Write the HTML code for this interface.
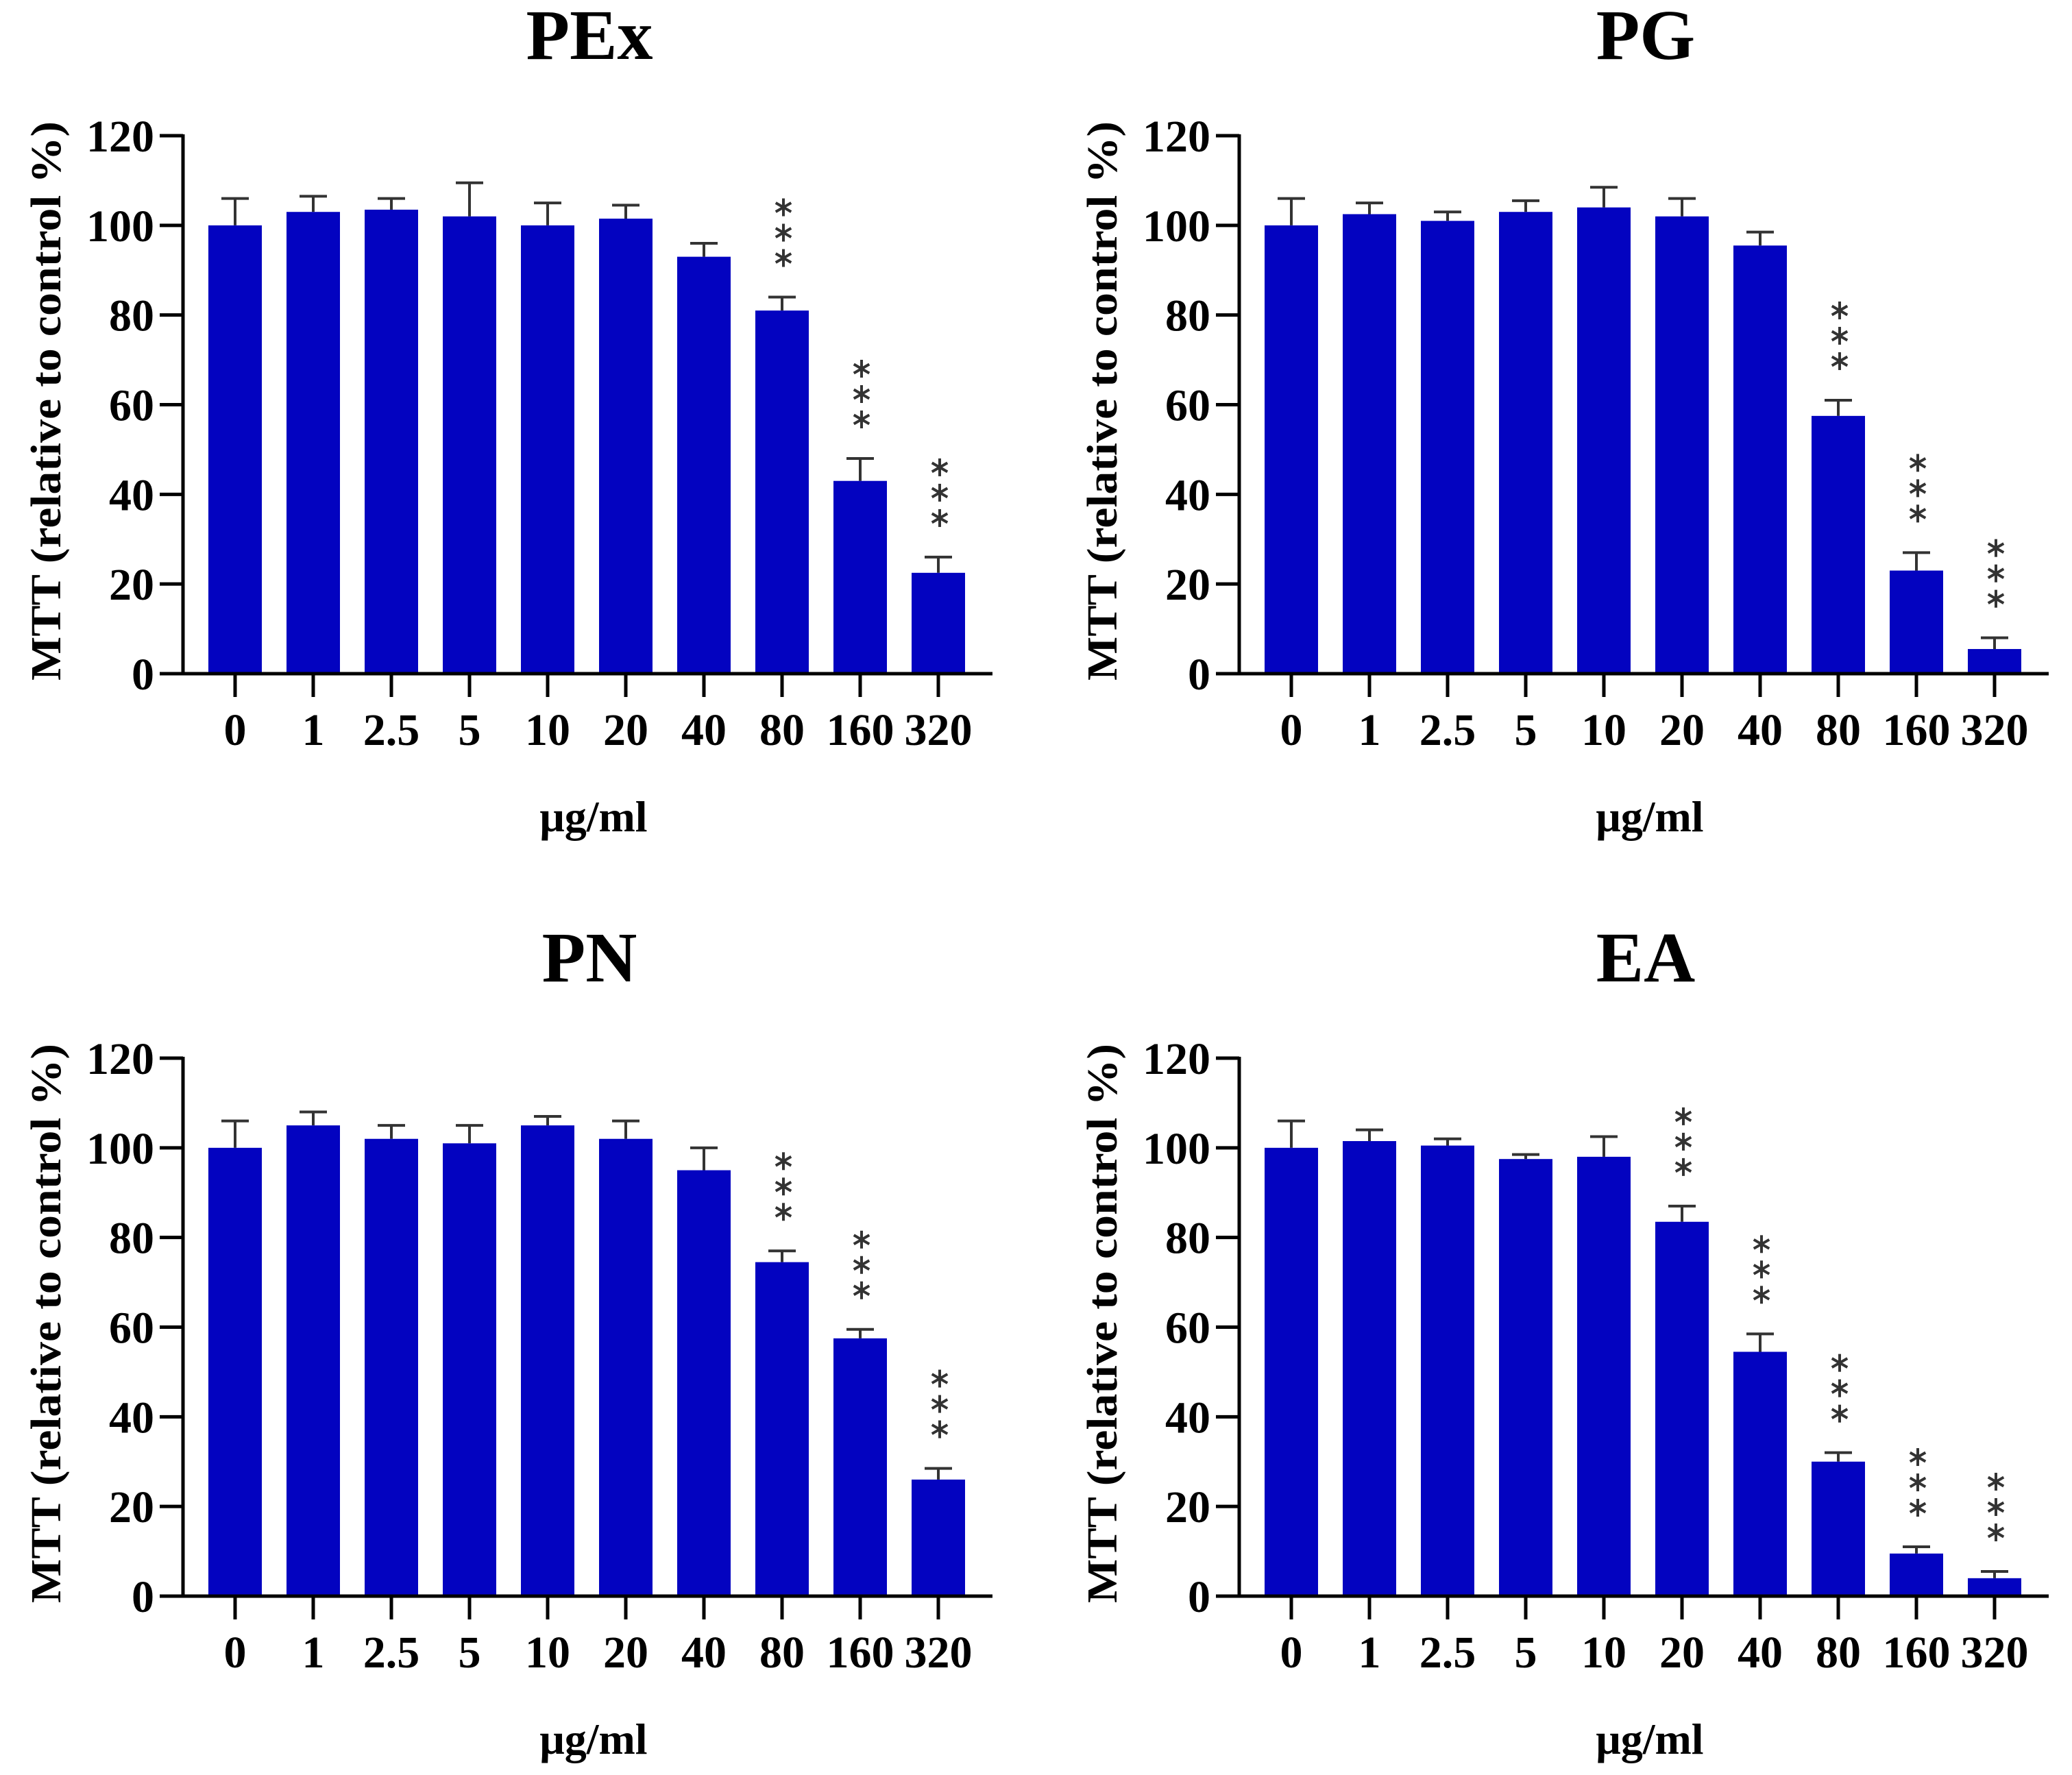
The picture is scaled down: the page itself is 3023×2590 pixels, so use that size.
<!DOCTYPE html>
<html><head><meta charset="utf-8"><style>html,body{margin:0;padding:0;background:#fff}svg{display:block}</style></head>
<body>
<svg id="fig" width="3023" height="2590" viewBox="0 0 3023 2590" xmlns="http://www.w3.org/2000/svg" font-family="'Liberation Serif', serif"></svg>
<script>
const categories = ["0","1","2.5","5","10","20","40","80","160","320"];
const yTicks = [0,20,40,60,80,100,120];
const titles = ["PEx","PG","PN","EA"];
const pexValues = [100,103,103.5,102,100,101.5,93,81,43,22.5];
const pexErrors = [6,3.5,2.5,7.5,5,3,3,3,5,3.5];
const pexStars  = [0,0,0,0,0,0,0,1,1,1];
const pgValues = [100,102.5,101,103,104,102,95.5,57.5,23,5.5];
const pgErrors = [6,2.5,2,2.5,4.5,4,3,3.5,4,2.5];
const pgStars  = [0,0,0,0,0,0,0,1,1,1];
const pnValues = [100,105,102,101,105,102,95,74.5,57.5,26];
const pnErrors = [6,3,3,4,2,4,5,2.5,2,2.5];
const pnStars  = [0,0,0,0,0,0,0,1,1,1];
const eaValues = [100,101.5,100.5,97.5,98,83.5,54.5,30,9.5,4];
const eaErrors = [6,2.5,1.5,1,4.5,3.5,4,2,1.5,1.5];
const eaStars  = [0,0,0,0,0,1,1,1,1,1];

const svg = document.getElementById('fig');
const NS = 'http://www.w3.org/2000/svg';
function mk(tag, attrs, parent){const e=document.createElementNS(NS,tag);for(const k in attrs)e.setAttribute(k,attrs[k]);parent.appendChild(e);return e;}

const panels = [
  {key:'pex', v:pexValues, e:pexErrors, s:pexStars, dx:0, dy:0},
  {key:'pg', v:pgValues, e:pgErrors, s:pgStars, dx:1541, dy:0},
  {key:'pn', v:pnValues, e:pnErrors, s:pnStars, dx:0, dy:1346},
  {key:'ea', v:eaValues, e:eaErrors, s:eaStars, dx:1541, dy:1346}
];

function star(g, cx, cy){
  const r=13;
  for(let a=0;a<3;a++){
    const ang=Math.PI/2+a*Math.PI/3;
    mk('line',{x1:cx-r*Math.cos(ang),y1:cy-r*Math.sin(ang),x2:cx+r*Math.cos(ang),y2:cy+r*Math.sin(ang),stroke:'#333',"stroke-width":4},g);
  }
}

panels.forEach((p,pi)=>{
  const g = mk('g',{},svg);
  
  
  const axX = 267+p.dx, y0 = 983+p.dy, y120 = 198+p.dy;
  const ys = v => y0 - (v/120)*(y0-y120);
  const x0 = 343+p.dx, step = 114;
  const xs = i => x0 + i*step;
  const bw = 78;

  const t = mk('text',{x:860+p.dx,y:86+p.dy,"text-anchor":"middle","font-size":104,"font-weight":"bold",fill:'#000'},g);
  t.textContent = titles[pi];
  
  

  p.v.forEach((val,i)=>{
    const cx = xs(i);
    const err = mk('g',{},g);
    
    
    mk('line',{x1:cx,x2:cx,y1:ys(val),y2:ys(val+p.e[i]),stroke:'#333',"stroke-width":4},err);
    mk('line',{x1:cx-20,x2:cx+20,y1:ys(val+p.e[i]),y2:ys(val+p.e[i]),stroke:'#333',"stroke-width":4},err);
    const r = mk('rect',{x:cx-bw/2,y:ys(val),width:bw,height:y0-ys(val),fill:'#0303c0'},g);
    
    
    if(p.s[i]){
      const sg = mk('g',{},g);
      
      
      const top = ys(val+p.e[i]);
      for(let k=0;k<3;k++) star(sg, cx+2, top-57-k*37);
    }
  });

  const ax = mk('g',{},g);
  
  
  mk('line',{x1:axX,x2:axX,y1:y120-2,y2:y0+2,stroke:'#000',"stroke-width":5},ax);
  mk('line',{x1:axX-2,x2:1448+p.dx,y1:y0,y2:y0,stroke:'#000',"stroke-width":5},ax);
  yTicks.forEach(v=>{
    mk('line',{x1:axX-34,x2:axX,y1:ys(v),y2:ys(v),stroke:'#000',"stroke-width":5},ax);
    const tl = mk('text',{x:axX-42,y:ys(v)+23,"text-anchor":"end","font-size":66,"font-weight":"bold"},ax);
    tl.textContent = v;
    
    
  });
  categories.forEach((c,i)=>{
    mk('line',{x1:xs(i),x2:xs(i),y1:y0,y2:y0+34,stroke:'#000',"stroke-width":5},ax);
    const tl = mk('text',{x:xs(i),y:y0+104,"text-anchor":"middle","font-size":66,"font-weight":"bold"},ax);
    tl.textContent = c;
    
    
  });
  const xl = mk('text',{x:866+p.dx,y:1213+p.dy,"text-anchor":"middle","font-size":64,"font-weight":"bold"},g);
  xl.textContent = 'μg/ml';
  
  
  const yl = mk('text',{x:0,y:0,"text-anchor":"middle","font-size":62,"font-weight":"bold",textLength:816,lengthAdjust:"spacingAndGlyphs",transform:`translate(${88+p.dx},${585+p.dy}) rotate(-90)`},g);
  yl.textContent = 'MTT (relative to control %)';
  
  
});
</script>
</body></html>
